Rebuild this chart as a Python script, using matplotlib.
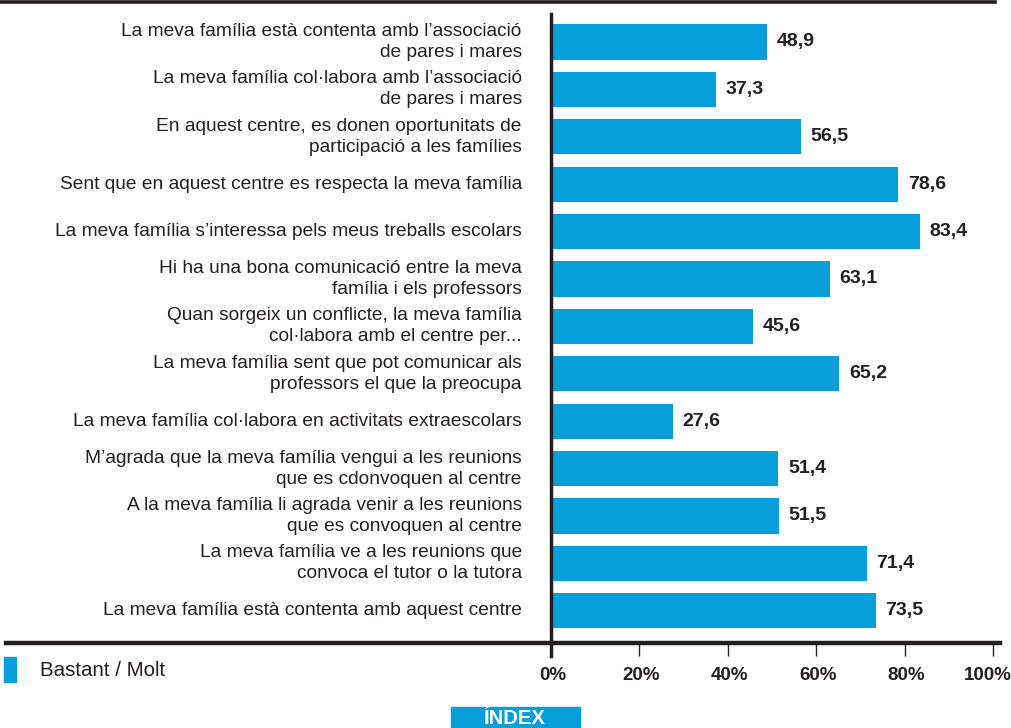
"""Bar chart: how students see their family's involvement with the school."""

import matplotlib.pyplot as plt
from matplotlib.lines import Line2D
from matplotlib.patches import Rectangle

# Data (percent "Bastant / Molt").
statements = [
    "La meva família està contenta amb l’associació\nde pares i mares",
    "La meva família col·labora amb l’associació\nde pares i mares",
    "En aquest centre, es donen oportunitats de\nparticipació a les famílies",
    "Sent que en aquest centre es respecta la meva família",
    "La meva família s’interessa pels meus treballs escolars",
    "Hi ha una bona comunicació entre la meva\nfamília i els professors",
    "Quan sorgeix un conflicte, la meva família\ncol·labora amb el centre per...",
    "La meva família sent que pot comunicar als\nprofessors el que la preocupa",
    "La meva família col·labora en activitats extraescolars",
    "M’agrada que la meva família vengui a les reunions\nque es cdonvoquen al centre",
    "A la meva família li agrada venir a les reunions\nque es convoquen al centre",
    "La meva família ve a les reunions que\nconvoca el tutor o la tutora",
    "La meva família està contenta amb aquest centre",
]
values = [48.9, 37.3, 56.5, 78.6, 83.4, 63.1, 45.6, 65.2, 27.6, 51.4, 51.5, 71.4, 73.5]
ticks = [0, 20, 40, 60, 80, 100]
legend_label = "Bastant / Molt"

BLUE = "#079fdb"
DARK = "#231f20"
W, H = 1011, 728
NARROW = ['Liberation Sans Narrow', 'Liberation Sans']

plt.rcParams['font.family'] = ['Liberation Sans', 'DejaVu Sans']

fig = plt.figure(figsize=(W / 100, H / 100), dpi=100)
# axes box in pixels: x 551..993, y 14..643 (from top)
ax = fig.add_axes([551 / W, 1 - 643 / H, (993 - 551) / W, (643 - 14) / H])

pos = list(range(len(values)))
ax.barh(pos, values, height=0.74, color=BLUE, zorder=2)
ax.set_xlim(0, 100)
ax.set_ylim(12.68, -0.59)

for i, (s, v) in enumerate(zip(statements, values)):
    ax.annotate(f"{v:.1f}".replace(".", ","), (v, i), xytext=(7, 0),
                textcoords="offset points", va="center", ha="left",
                fontsize=14, fontweight="bold", color=DARK)
    ax.annotate(s, (0, i), xytext=(-21, 0), textcoords="offset points",
                va="center", ha="right", multialignment="right",
                fontsize=13.8, color=DARK, linespacing=1.3)

for side in ax.spines.values():
    side.set_visible(False)
ax.set_yticks([])
ax.set_xticks(ticks)
ax.set_xticklabels([])
ax.tick_params(axis="x", length=9, width=1, color=DARK)
# tick labels drawn by hand so the last one stays inside the picture
for t in ticks:
    nudge = -5 if t == ticks[-1] else 2
    ax.annotate(f"{t}%", (t, 0), xycoords=ax.get_xaxis_transform(),
                xytext=(nudge, -33), textcoords="offset pixels",
                ha="center", va="center", fontsize=13.5, fontweight="bold",
                color=DARK, family=NARROW, annotation_clip=False)
ax.axvline(0, color=DARK, lw=2.5, zorder=3, ymin=-0.02, clip_on=False)

# frame lines across the whole figure
fig.add_artist(Line2D([0, 995 / W], [1 - 2 / H] * 2, color=DARK, lw=2.6))
fig.add_artist(Line2D([6 / W, 1000 / W], [1 - 643 / H] * 2, color=DARK, lw=3.2))

# legend swatch
fig.add_artist(Rectangle((4 / W, 1 - 682 / H), 12 / W, 25 / H, color=BLUE))
fig.text(40 / W, 1 - 671 / H, legend_label, fontsize=14.8, color=DARK, va="center")

# ÍNDEX button
fig.add_artist(Rectangle((451 / W, 0), 129 / W, 21 / H, color=BLUE))
fig.text(515 / W, 1 - 718 / H, "ÍNDEX", fontsize=14.5, fontweight="bold",
         color="white", ha="center", va="center", family=NARROW)

fig.savefig("out.png", dpi=100)
